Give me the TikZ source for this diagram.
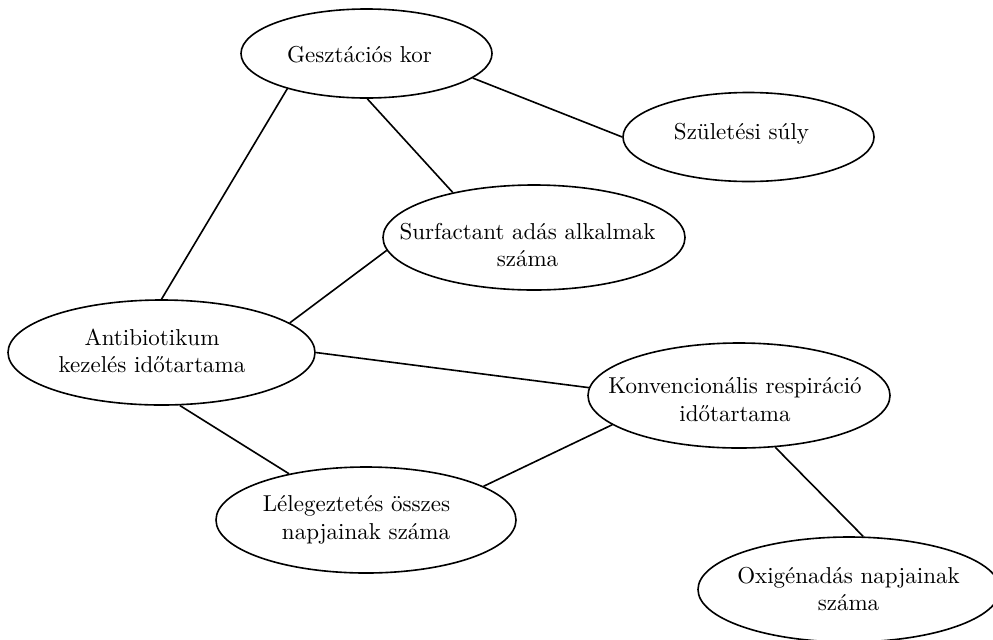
\documentclass[tikz,border=0pt]{standalone}
\usepackage{tikz}
\usetikzlibrary{shapes.geometric}
\usetikzlibrary{positioning}

% one pixel of the drawing
\def\px{0.4348pt}

\tikzset{
  bubble/.style={draw, ellipse, line width=0.7pt, inner sep=0pt},
  bubbleText/.style={align=center, inner sep=0pt},
  link/.style={line width=0.7pt}
}

\begin{document}
\begin{tikzpicture}[x=\px, y=-\px]

% frame
\useasboundingbox (0,0) rectangle (993,639);
\clip (0,0) rectangle (993,639);

% sizes of the ellipses
\def\smallW {251*\px}
\def\smallH {89*\px}
\def\bigW   {302*\px}
\def\bigH   {105*\px}

% ellipses
\node[bubble, minimum width=\smallW, minimum height=\smallH] (gest) at (366.5,53.5) {};
\node[bubble, minimum width=\smallW, minimum height=\smallH] (szul) at (748.5,137) {};
\node[bubble, minimum width=\bigW, minimum height=\bigH] (surf) at (534,237.5) {};
\node[bubble, minimum width=307*\px, minimum height=\bigH] (anti) at (161.5,352.5) {};
\node[bubble, minimum width=\bigW, minimum height=\bigH] (konv) at (739,395.5) {};
\node[bubble, minimum width=300*\px, minimum height=106*\px] (lel) at (366,520) {};
\node[bubble, minimum width=\bigW, minimum height=\bigH] (oxi) at (849,589.5) {};

% texts
\node[bubbleText] (gestText) at (359.5,55) {Gesztációs kor};
\node[bubbleText] (szulText) at (741.5,134) {Születési súly};
\node[bubbleText] (surfText) at (527.5,245) {Surfactant adás alkalmak\\száma};
\node[bubbleText] (antiText) at (152,351) {Antibiotikum\\kezelés időtartama};
\node[bubbleText] (konvText) at (735,399.5) {Konvencionális respiráció\\időtartama};
\node[bubbleText, align=right] (lelText) at (356.5,520) {Lélegeztetés összes\\napjainak száma};
\node[bubbleText] (oxiText) at (848.5,589) {Oxigénadás napjainak\\száma};

% links
\draw[link] (gest.-13) -- (szul.180);
\draw[link] (gest.204) -- (anti.90);
\draw[link] (gest.-89) -- (surf.151);
\draw[link] (surf.185) -- (anti.13);
\draw[link] (anti.0) -- (konv.177);
\draw[link] (anti.-71) -- (lel.149);
\draw[link] (lel.16) -- (konv.193);
\draw[link] (konv.-55) -- (oxi.75);

\end{tikzpicture}
\end{document}
